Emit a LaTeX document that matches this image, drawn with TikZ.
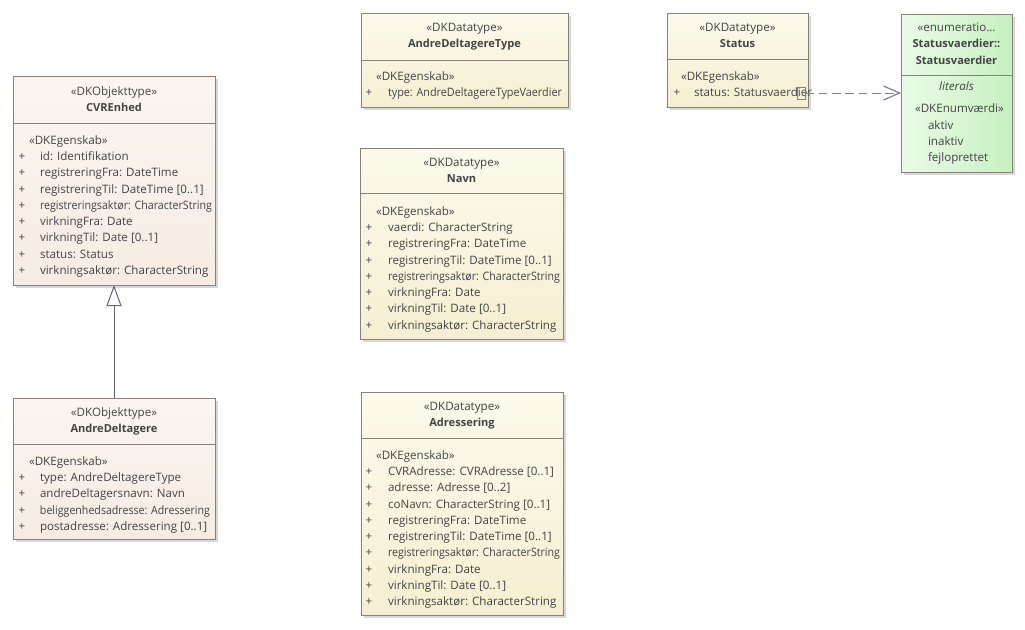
\documentclass[tikz,border=0pt]{standalone}
\usepackage{fontspec}
\setmainfont{Open Sans}
\usetikzlibrary{arrows.meta}
\definecolor{bord}{HTML}{8A817C}
\definecolor{shad}{HTML}{D8D8D8}
\definecolor{objtop}{HTML}{FBF6F1}
\definecolor{objbot}{HTML}{F6ECE3}
\definecolor{dttop}{HTML}{FCFAEC}
\definecolor{dtbot}{HTML}{F5EFD2}
\definecolor{entop}{HTML}{EAFBE7}
\definecolor{enbot}{HTML}{C8F0C2}
\definecolor{txt}{HTML}{444444}
\definecolor{conn}{HTML}{5F6878}
\definecolor{dconn}{HTML}{7A809A}
\newcommand\sq[2]{\resizebox{#1pt}{\height}{#2}}
\tikzset{
  classbox/.style={draw=bord, line width=0.75pt, anchor=north west, inner sep=0pt, outer sep=0pt},
  objfill/.style={top color=objtop, bottom color=objbot},
  dtfill/.style={top color=dttop, bottom color=dtbot},
  enfill/.style={left color=entop, right color=enbot},
  lbl/.style={font=\fontsize{8.7}{10}\selectfont, text=txt, inner sep=0pt, outer sep=0pt},
  stereo/.style={lbl, anchor=mid},
  ttl/.style={lbl, anchor=mid, font=\fontsize{8.3}{10}\selectfont\bfseries},
  attr/.style={lbl, anchor=mid west},
  plus/.style={lbl, anchor=mid},
  gen/.style={draw=conn, line width=0.75pt, -{Triangle[open, fill=white, length=15.75pt, width=11.25pt]}},
  dep/.style={draw=dconn, line width=0.75pt, dash pattern=on 6.5pt off 3.5pt, -{Straight Barb[length=12pt, width=10.5pt, line width=0.9pt]}},
}
\newcommand\umlbox[7]{%
  \fill[shad] (#2+3,#3+3) rectangle (#4+3,#5+3);
  \node[classbox,#7,minimum width={(#4-#2)*0.75pt},minimum height={(#5-#3)*0.75pt}] (#1) at (#2,#3) {};
  \draw[bord, line width=0.75pt] (#2,#6) -- (#4,#6);
}
% name, xplus, xtext, ystart, list
\newcommand\attrlist[5]{%
  \foreach \t [count=\i from 0] in {#5} {
    \node[plus] (#1p\i) at (#2, #4+\i*16.25) {+};
    \node[attr] (#1a\i) at (#3, #4+\i*16.25) {\t};
  }
}
\begin{document}
\begin{tikzpicture}[x=0.75pt,y=-0.75pt]
\useasboundingbox[fill=white] (0,0) rectangle (1025,629);

% boxes
\umlbox{cvr}{13}{76}{215}{285}{123}{objfill}
\umlbox{andre}{13}{398}{215}{539}{444}{objfill}
\umlbox{adt}{361}{13}{568}{107}{60}{dtfill}
\umlbox{navn}{360}{148}{563}{339}{193}{dtfill}
\umlbox{adr}{361}{392}{563}{615}{438}{dtfill}
\umlbox{status}{667}{13}{808}{107}{59}{dtfill}
\umlbox{enum}{901}{14}{1012}{172}{75}{enfill}

% CVREnhed
\node[stereo] (cvrs) at (114,92) {«DKObjekttype»};
\node[ttl] (cvrt) at (114,108) {CVREnhed};
\node[attr] (cvre) at (29,141) {«DKEgenskab»};
\attrlist{cvr}{22}{40}{157}{id: Identifikation,registreringFra: DateTime,registreringTil: DateTime [0..1],{\sq{129}{registreringsaktør: CharacterString}},virkningFra: Date,virkningTil: Date [0..1],status: Status,virkningsaktør: CharacterString}

% AndreDeltagere
\node[stereo] (andres) at (114,413) {«DKObjekttype»};
\node[ttl] (andret) at (114,429) {AndreDeltagere};
\node[attr] (andree) at (29,462) {«DKEgenskab»};
\attrlist{andre}{22}{40}{478}{type: AndreDeltagereType,andreDeltagersnavn: Navn,{\sq{127.5}{beliggenhedsadresse: Adressering}},postadresse: Adressering [0..1]}

% AndreDeltagereType
\node[stereo] (adts) at (464.5,28) {«DKDatatype»};
\node[ttl] (adtt) at (464.5,44) {AndreDeltagereType};
\node[attr] (adte) at (376,77) {«DKEgenskab»};
\attrlist{adt}{369}{388}{93}{{\sq{130.5}{type: AndreDeltagereTypeVaerdier}}}

% Navn
\node[stereo] (navns) at (461.5,163) {«DKDatatype»};
\node[ttl] (navnt) at (461.5,179) {Navn};
\node[attr] (navne) at (376,212) {«DKEgenskab»};
\attrlist{navn}{369}{388}{228}{vaerdi: CharacterString,registreringFra: DateTime,registreringTil: DateTime [0..1],{\sq{129}{registreringsaktør: CharacterString}},virkningFra: Date,virkningTil: Date [0..1],virkningsaktør: CharacterString}

% Adressering
\node[stereo] (adrs) at (462,407) {«DKDatatype»};
\node[ttl] (adrt) at (462,423) {Adressering};
\node[attr] (adre) at (376,456) {«DKEgenskab»};
\attrlist{adr}{369}{388}{472}{CVRAdresse: CVRAdresse [0..1],adresse: Adresse [0..2],coNavn: CharacterString [0..1],registreringFra: DateTime,registreringTil: DateTime [0..1],{\sq{129}{registreringsaktør: CharacterString}},virkningFra: Date,virkningTil: Date [0..1],virkningsaktør: CharacterString}

% Status
\node[stereo] (stats) at (737.5,28) {«DKDatatype»};
\node[ttl] (statt) at (737.5,44) {Status};
\node[attr] (state) at (681,77) {«DKEgenskab»};
\attrlist{stat}{677}{694}{93}{status: Statusvaerdier}
\node[draw=bord, line width=0.6pt, minimum width=6pt, minimum height=9pt, inner sep=0pt] (statmark) at (801,93) {};

% Enumeration
\node[stereo] (enums) at (956.5,28) {«enumeratio…};
\node[ttl] (enumt1) at (956.5,44) {Statusvaerdier::};
\node[ttl] (enumt2) at (956.5,61) {Statusvaerdier};
\node[stereo, font=\fontsize{8.7}{10}\selectfont\itshape] (enuml) at (956.5,87) {literals};
\node[attr] (enume) at (915,109) {«DKEnumværdi»};
\node[attr] (enum1) at (928,126) {aktiv};
\node[attr] (enum2) at (928,142) {inaktiv};
\node[attr] (enum3) at (928,158) {fejloprettet};

% connectors
\draw[gen] (andre.north) -- (cvr.south);
\draw[dep] (statmark.east) -- (enum.west |- statmark.east);
\end{tikzpicture}
\end{document}
